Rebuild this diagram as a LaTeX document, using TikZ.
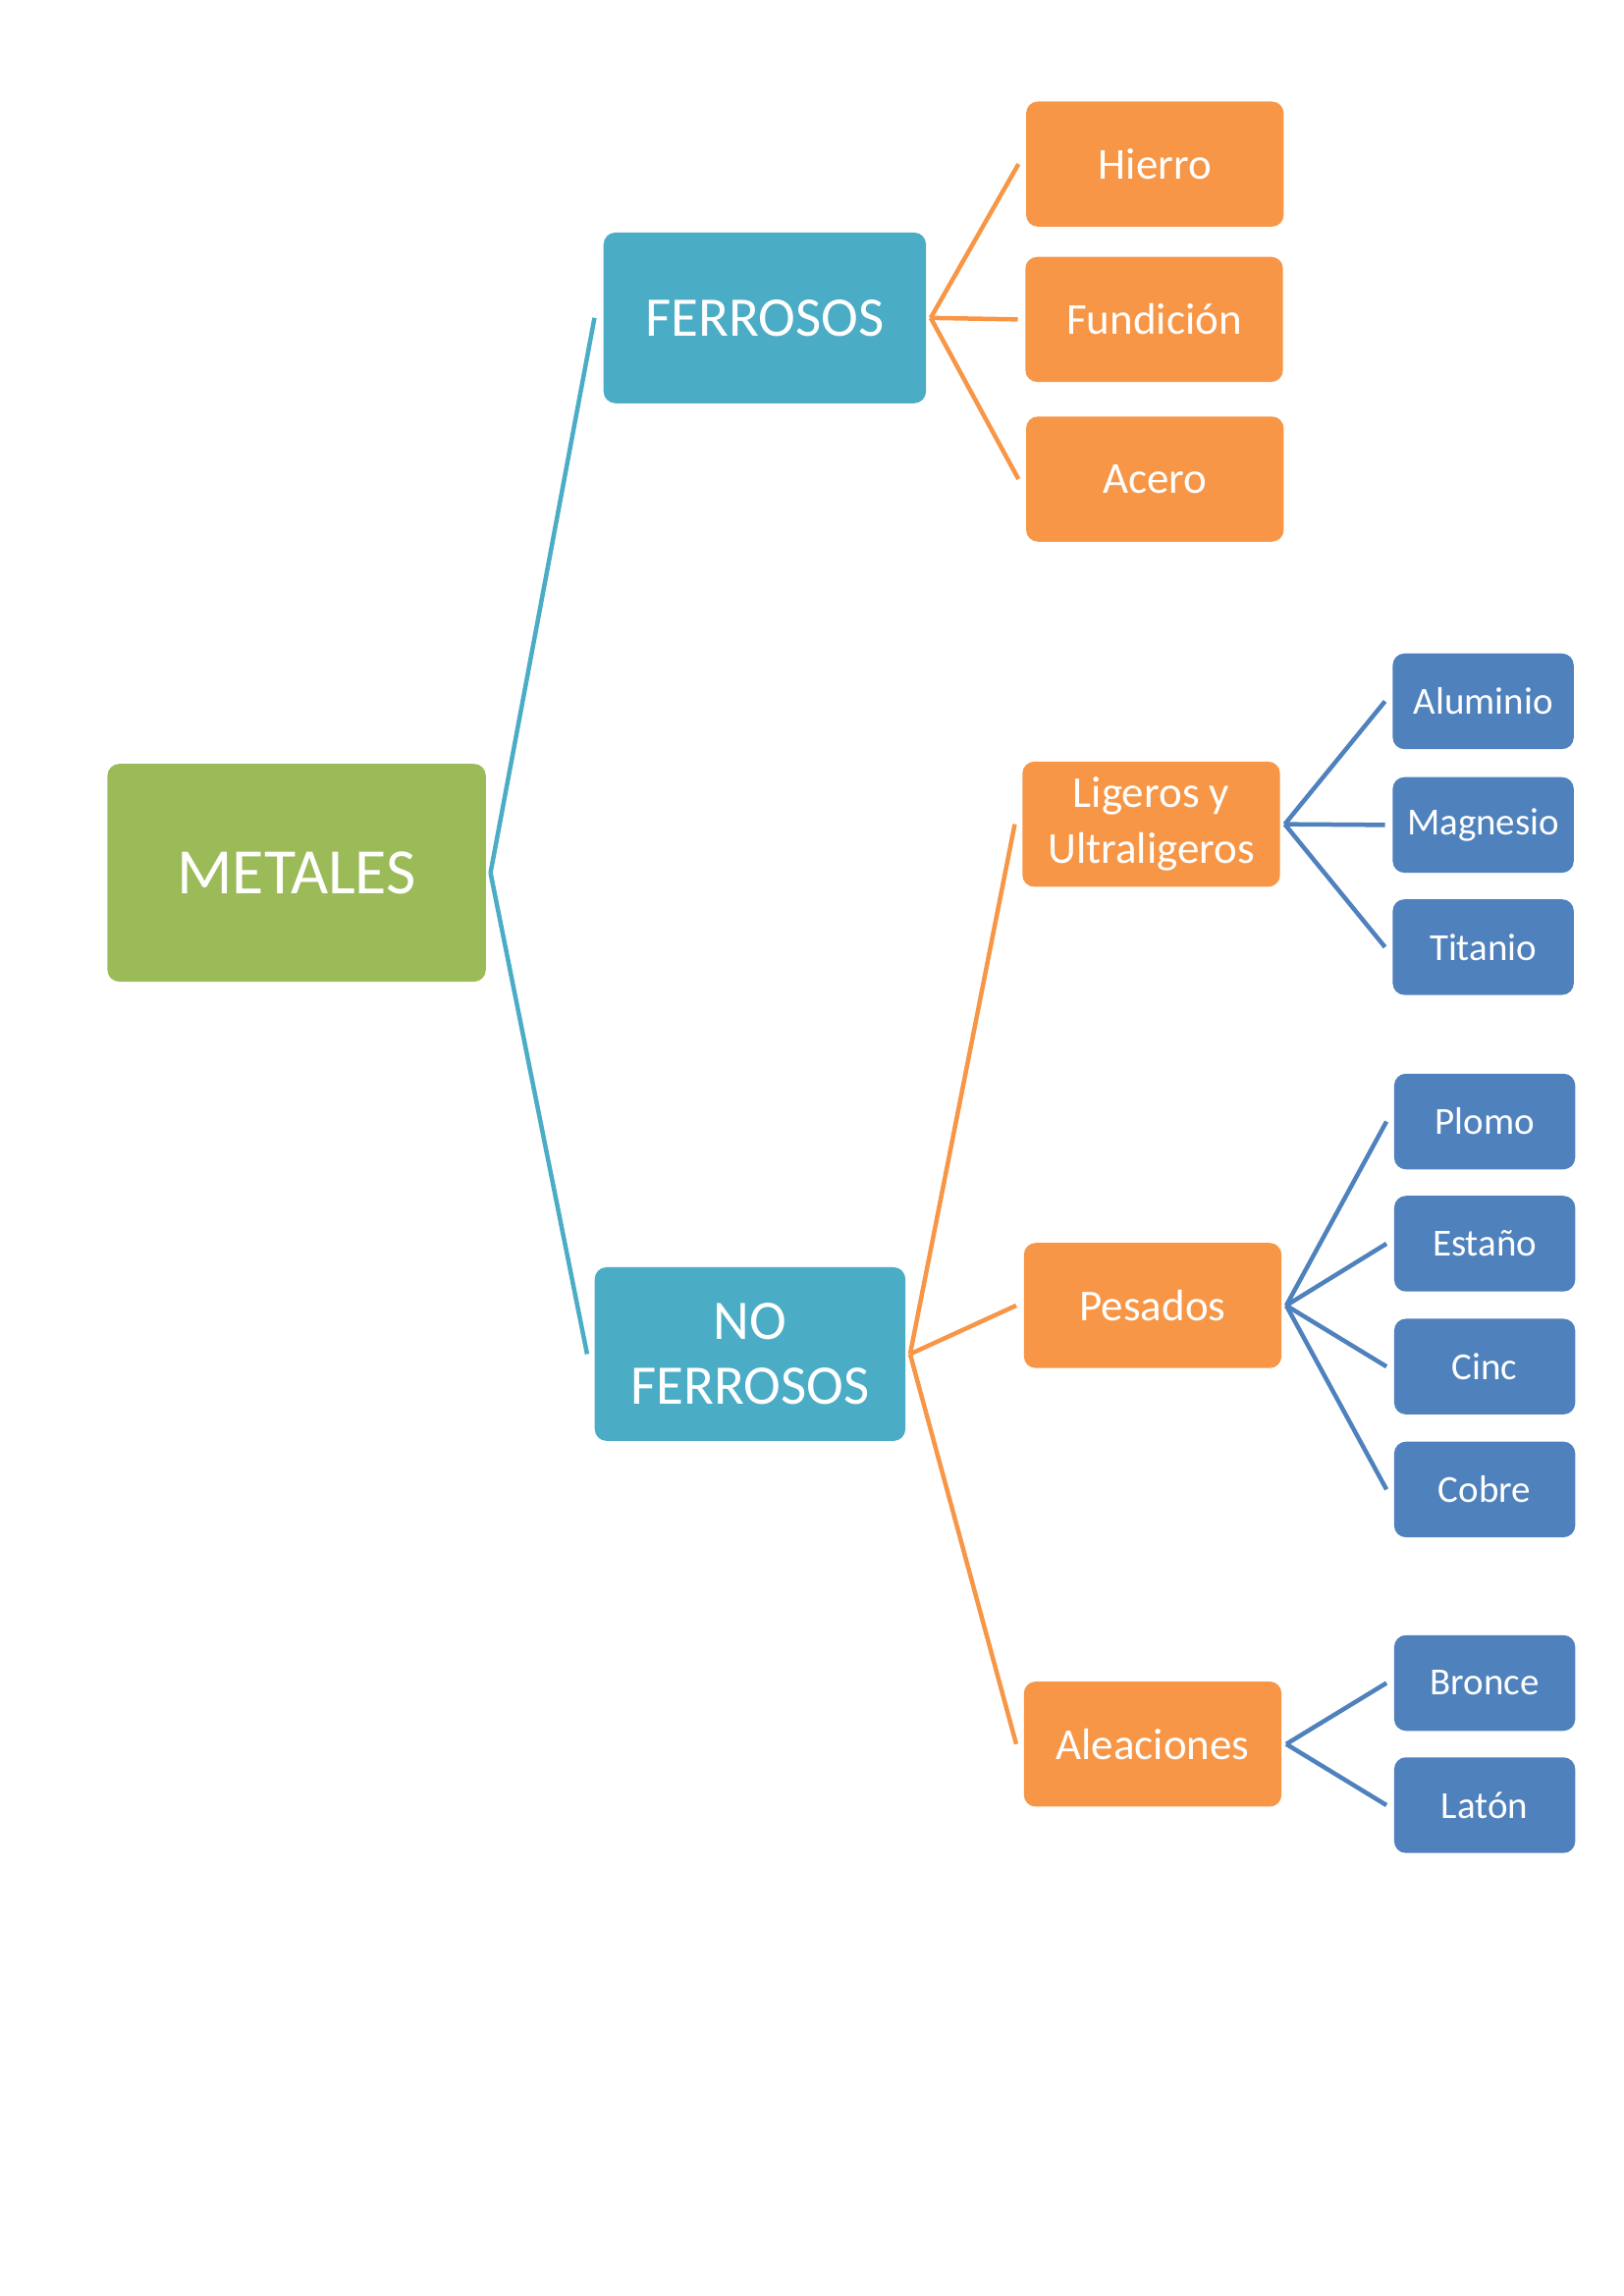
\documentclass[tikz,border=0pt]{standalone}
\usepackage{fontspec}
\setmainfont{Carlito}
\definecolor{cgreen}{HTML}{9BBB59}
\definecolor{cteal}{HTML}{4BACC6}
\definecolor{corange}{HTML}{F79646}
\definecolor{cblue}{HTML}{4F81BD}
\begin{document}
\begin{tikzpicture}[x=1pt,y=-1pt,
 box/.style={rounded corners=8pt,inner sep=0pt,text=white,align=center,draw=none},
 gbox/.style={box,fill=cgreen,minimum width=257pt,minimum height=148pt,font=\fontsize{44}{50}\selectfont},
 tbox/.style={box,fill=cteal,font=\fontsize{38}{44}\selectfont},
 obox/.style={box,fill=corange,minimum width=175pt,minimum height=85pt,font=\fontsize{30}{38}\selectfont},
 bbox/.style={box,fill=cblue,minimum width=123pt,minimum height=65pt,font=\fontsize{26}{30}\selectfont},
 tl/.style={line width=3pt,draw=cteal},
 ol/.style={line width=3pt,draw=corange},
 bl/.style={line width=3pt,draw=cblue}]
\useasboundingbox (0,0) rectangle (1103,1560);
\node[gbox] (met) at (201.5,593) {METALES};
\node[tbox,minimum width=219pt,minimum height=116pt] (fer) at (519.5,216) {FERROSOS};
\node[tbox,minimum width=211pt,minimum height=118pt] (nof) at (509.5,920) {NO\\FERROSOS};
\node[obox] (hie) at (784.5,111.5) {Hierro};
\node[obox] (fun) at (784,217) {Fundición};
\node[obox] (ace) at (784.5,325.5) {Acero};
\node[obox,font=\fontsize{30}{38}\selectfont] (lig) at (782,560) {Ligeros y\\Ultraligeros};
\node[obox] (pes) at (783,887) {Pesados};
\node[obox] (ale) at (783,1185) {Aleaciones};
\node[bbox] (alu) at (1007.5,476.5) {Aluminio};
\node[bbox] (mag) at (1007.5,560.5) {Magnesio};
\node[bbox] (tit) at (1007.5,643.5) {Titanio};
\node[bbox] (plo) at (1008.5,762) {Plomo};
\node[bbox] (est) at (1008.5,845) {Estaño};
\node[bbox] (cin) at (1008.5,928.5) {Cinc};
\node[bbox] (cob) at (1008.5,1012) {Cobre};
\node[bbox] (bro) at (1008.5,1143.5) {Bronce};
\node[bbox] (lat) at (1008.5,1226.5) {Latón};
\coordinate (m0) at ([xshift=3pt]met.east);
\draw[tl] (m0) -- ([xshift=-6pt]fer.west);
\draw[tl] (m0) -- ([xshift=-5pt]nof.west);
\coordinate (f0) at ([xshift=3pt]fer.east);
\foreach \c in {hie,fun,ace} \draw[ol] (f0) -- ([xshift=-5pt]\c.west);
\coordinate (n0) at ([xshift=3pt]nof.east);
\foreach \c in {lig,pes,ale} \draw[ol] (n0) -- ([xshift=-5pt]\c.west);
\coordinate (l0) at ([xshift=3pt]lig.east);
\foreach \c in {alu,mag,tit} \draw[bl] (l0) -- ([xshift=-5pt]\c.west);
\coordinate (p0) at ([xshift=3pt]pes.east);
\foreach \c in {plo,est,cin,cob} \draw[bl] (p0) -- ([xshift=-5pt]\c.west);
\coordinate (a0) at ([xshift=3pt]ale.east);
\foreach \c in {bro,lat} \draw[bl] (a0) -- ([xshift=-5pt]\c.west);
\end{tikzpicture}
\end{document}
